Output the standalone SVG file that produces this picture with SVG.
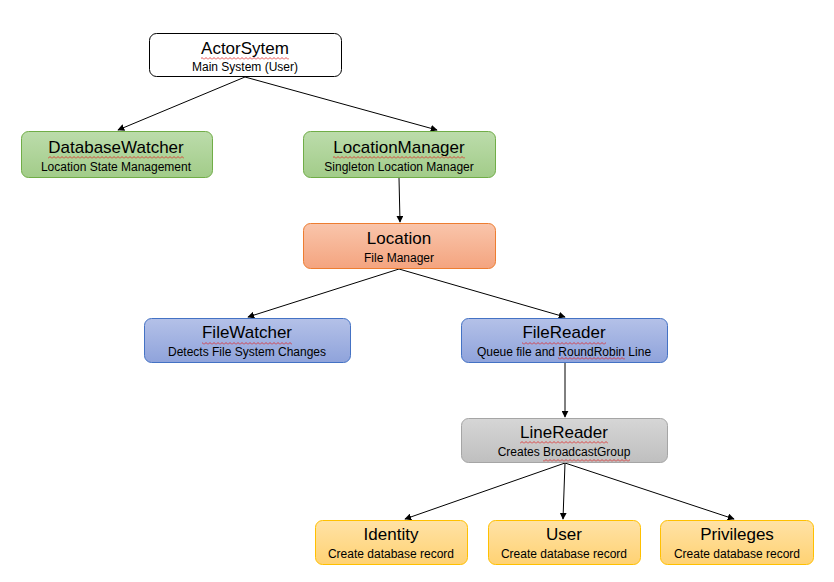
<svg xmlns="http://www.w3.org/2000/svg" width="834" height="582" viewBox="0 0 834 582">
<defs>
<linearGradient id="gGreen" x1="0" y1="0" x2="0" y2="1"><stop offset="0" stop-color="#bcdcab"/><stop offset="1" stop-color="#a2cc89"/></linearGradient>
<linearGradient id="gOrange" x1="0" y1="0" x2="0" y2="1"><stop offset="0" stop-color="#f9c5ab"/><stop offset="1" stop-color="#f4a47f"/></linearGradient>
<linearGradient id="gBlue" x1="0" y1="0" x2="0" y2="1"><stop offset="0" stop-color="#b4c1e8"/><stop offset="1" stop-color="#8fa3db"/></linearGradient>
<linearGradient id="gGray" x1="0" y1="0" x2="0" y2="1"><stop offset="0" stop-color="#d6d6d6"/><stop offset="1" stop-color="#bfbfbf"/></linearGradient>
<linearGradient id="gYellow" x1="0" y1="0" x2="0" y2="1"><stop offset="0" stop-color="#ffe2a6"/><stop offset="1" stop-color="#ffd273"/></linearGradient>
<pattern id="zig" width="4" height="3" patternUnits="userSpaceOnUse"><path d="M0,2.5 L2,0.5 L4,2.5" stroke="#e02020" fill="none" stroke-width="0.8"/></pattern>
<marker id="arr" viewBox="0 0 10 10" refX="9" refY="5" markerWidth="7" markerHeight="7" orient="auto" markerUnits="userSpaceOnUse"><path d="M0,0 L10,5 L0,10 z" fill="#000"/></marker>
</defs>
<style>
.box{stroke-width:1}
.t{font-family:"Liberation Sans",Arial,sans-serif;font-size:17px;fill:#000;text-anchor:middle}
.s{font-family:"Liberation Sans",Arial,sans-serif;font-size:12px;fill:#000;text-anchor:middle}
.sq{fill:url(#zig)}
.c{stroke:#000;stroke-width:1;fill:none;marker-end:url(#arr)}
</style>
<rect width="834" height="582" fill="#fff"/>
<g id="connectors">
<line class="c" x1="245" y1="77" x2="118" y2="130"/>
<line class="c" x1="245" y1="77" x2="437" y2="130"/>
<line class="c" x1="399" y1="178" x2="400" y2="222"/>
<line class="c" x1="399" y1="269" x2="248" y2="317"/>
<line class="c" x1="399" y1="269" x2="565" y2="317"/>
<line class="c" x1="565" y1="363" x2="565" y2="417"/>
<line class="c" x1="565" y1="463" x2="405" y2="519"/>
<line class="c" x1="565" y1="463" x2="563" y2="519"/>
<line class="c" x1="565" y1="463" x2="734" y2="519"/>
</g>
<g id="actorsytem">
<rect class="box" x="149.5" y="33.5" width="192" height="43" rx="7" fill="#fff" stroke="#000"/>
<text class="t" x="245" y="54">ActorSytem</text>
<text class="s" x="245" y="71">Main System (User)</text>
<rect class="sq" x="201" y="57" width="88" height="3"/>
</g>
<g id="databasewatcher">
<rect class="box" x="21.5" y="131.5" width="191" height="46" rx="7" fill="url(#gGreen)" stroke="#70ad47"/>
<text class="t" x="116" y="153">DatabaseWatcher</text>
<text class="s" x="116" y="171">Location State Management</text>
<rect class="sq" x="48" y="156" width="136" height="3"/>
</g>
<g id="locationmanager">
<rect class="box" x="303.5" y="131.5" width="192" height="46" rx="7" fill="url(#gGreen)" stroke="#70ad47"/>
<text class="t" x="399" y="153">LocationManager</text>
<text class="s" x="399" y="171">Singleton Location Manager</text>
<rect class="sq" x="333" y="156" width="132" height="3"/>
</g>
<g id="location">
<rect class="box" x="303.5" y="223.5" width="192" height="45" rx="7" fill="url(#gOrange)" stroke="#ed7d31"/>
<text class="t" x="399" y="244">Location</text>
<text class="s" x="399" y="262">File Manager</text>
</g>
<g id="filewatcher">
<rect class="box" x="144.5" y="318.5" width="206" height="44" rx="7" fill="url(#gBlue)" stroke="#4472c4"/>
<text class="t" x="247" y="338">FileWatcher</text>
<text class="s" x="247" y="356">Detects File System Changes</text>
<rect class="sq" x="202" y="342" width="90" height="3"/>
</g>
<g id="filereader">
<rect class="box" x="461.5" y="318.5" width="206" height="44" rx="7" fill="url(#gBlue)" stroke="#4472c4"/>
<text class="t" x="564" y="338">FileReader</text>
<text class="s" x="564" y="356">Queue file and RoundRobin Line</text>
<rect class="sq" x="522" y="342" width="84" height="3"/>
<rect class="sq" x="558" y="357" width="67" height="3"/>
</g>
<g id="linereader">
<rect class="box" x="461.5" y="418.5" width="206" height="44" rx="7" fill="url(#gGray)" stroke="#a5a5a5"/>
<text class="t" x="564" y="438">LineReader</text>
<text class="s" x="564" y="456">Creates BroadcastGroup</text>
<rect class="sq" x="520" y="441" width="88" height="3"/>
<rect class="sq" x="543" y="459" width="87" height="3"/>
</g>
<g id="identity">
<rect class="box" x="315.5" y="520.5" width="152" height="44" rx="7" fill="url(#gYellow)" stroke="#ffc000"/>
<text class="t" x="391" y="540">Identity</text>
<text class="s" x="391" y="558">Create database record</text>
</g>
<g id="user">
<rect class="box" x="488.5" y="520.5" width="152" height="44" rx="7" fill="url(#gYellow)" stroke="#ffc000"/>
<text class="t" x="564" y="540">User</text>
<text class="s" x="564" y="558">Create database record</text>
</g>
<g id="privileges">
<rect class="box" x="660.5" y="520.5" width="153" height="44" rx="7" fill="url(#gYellow)" stroke="#ffc000"/>
<text class="t" x="737" y="540">Privileges</text>
<text class="s" x="737" y="558">Create database record</text>
</g>
</svg>
